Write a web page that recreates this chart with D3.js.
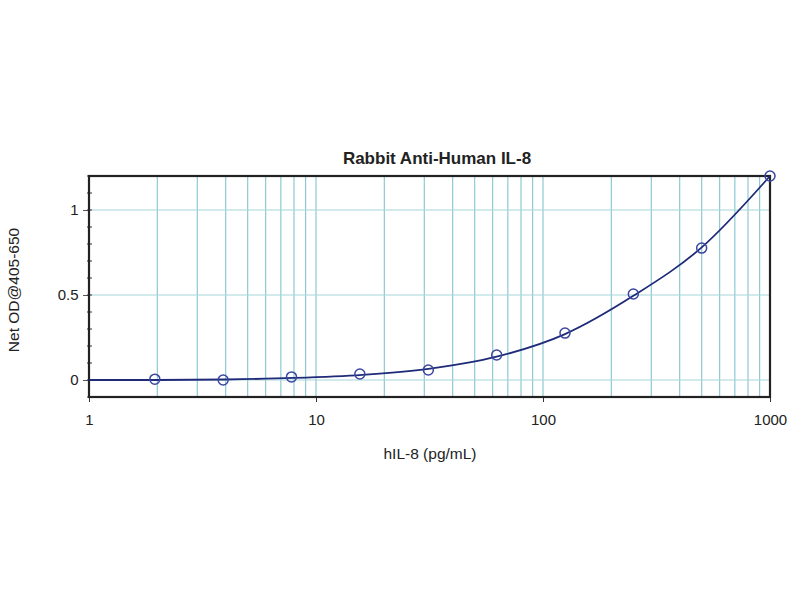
<!DOCTYPE html>
<html><head><meta charset="utf-8">
<script src="https://cdn.jsdelivr.net/npm/d3@7/dist/d3.min.js"></script>
<style>body{margin:0;background:#fff;} svg{display:block;font-family:"Liberation Sans",Arial,sans-serif;}</style>
</head><body><svg id="c" width="800" height="600"></svg>
<script>
const concentrations = [1.95, 3.9, 7.8, 15.6, 31.25, 62.5, 125, 250, 500, 1000];
const netOD = [0.005, 0.0, 0.018, 0.035, 0.059, 0.147, 0.276, 0.506, 0.776, 1.2];
const fitX = [1, 2, 4, 8, 16, 31.25, 62.5, 125, 250, 500, 1000];
const fitY = [0.0, 0.0, 0.003, 0.012, 0.03, 0.065, 0.137, 0.27, 0.495, 0.78, 1.2];
const xTicks = [1, 10, 100, 1000];
const yTicks = [0, 0.5, 1];
const title = "Rabbit Anti-Human IL-8";
const xLabel = "hIL-8 (pg/mL)";
const yLabel = "Net OD@405-650";

const svg = d3.select("#c");
const L = 89, R = 770, T = 176, B = 397;
const x = d3.scaleLog().domain([1, 1000]).range([L, R]);
const y = d3.scaleLinear().domain([-0.1, 1.2]).range([B, T]);

// minor log gridlines
const grid = [];
for (let d = 1; d < 1000; d *= 10) for (let k = 1; k <= 9; k++) { const v = d * k; if (v > 1 && v < 1000) grid.push(v); }
svg.append("g").selectAll("line").data(grid).join("line")
  .attr("x1", d => x(d)).attr("x2", d => x(d)).attr("y1", T).attr("y2", B)
  .attr("stroke", "#8fc9d2").attr("stroke-width", 1.2);
svg.append("g").selectAll("line").data(yTicks).join("line")
  .attr("x1", L).attr("x2", R).attr("y1", d => y(d)).attr("y2", d => y(d))
  .attr("stroke", "#a8d6dc").attr("stroke-width", 1.2);

// axes
const xAxis = d3.axisBottom(x).tickValues(xTicks).tickFormat(d3.format("d")).tickSize(5).tickSizeOuter(0);
const gx = svg.append("g").attr("transform", `translate(0,${B})`).call(xAxis);
gx.select(".domain").remove();
gx.selectAll("text").attr("font-size", 15).attr("fill", "#222").attr("dy", "1.33em");
gx.selectAll("line").attr("stroke", "#333");

const yAxis = d3.axisLeft(y).tickValues(yTicks).tickFormat(d => d === 0 ? "0" : String(d)).tickSize(6);
const gy = svg.append("g").attr("transform", `translate(${L},0)`).call(yAxis);
gy.select(".domain").remove();
gy.selectAll("text").attr("font-size", 15).attr("fill", "#222").attr("dx", "-0.1em");
gy.selectAll("line").attr("stroke", "#555");

// minor y ticks
const minorY = d3.range(-0.1, 1.2001, 0.1).map(v => +v.toFixed(2));
svg.append("g").selectAll("line").data(minorY).join("line")
  .attr("x1", L - 2).attr("x2", L + 3).attr("y1", d => y(d)).attr("y2", d => y(d))
  .attr("stroke", "#333");

// frame
svg.append("rect").attr("x", L).attr("y", T).attr("width", R - L).attr("height", B - T)
  .attr("fill", "none").attr("stroke", "#222").attr("stroke-width", 2.2);

// fit curve
const line = d3.line().x(d => x(d[0])).y(d => y(d[1])).curve(d3.curveMonotoneX);
svg.append("path").datum(fitX.map((v, i) => [v, fitY[i]]))
  .attr("d", line).attr("fill", "none").attr("stroke", "#1f2a78").attr("stroke-width", 1.8);

// points
svg.append("g").selectAll("circle").data(concentrations.map((v, i) => [v, netOD[i]])).join("circle")
  .attr("cx", d => x(d[0])).attr("cy", d => y(d[1])).attr("r", 5)
  .attr("fill", "none").attr("stroke", "#3a46a0").attr("stroke-width", 1.5);

// texts
svg.append("text").attr("x", 437).attr("y", 164).attr("text-anchor", "middle")
  .attr("font-size", 17).attr("font-weight", "bold").attr("fill", "#222").text(title);
svg.append("text").attr("x", 430).attr("y", 459).attr("text-anchor", "middle")
  .attr("font-size", 15.5).attr("fill", "#222").text(xLabel);
svg.append("text").attr("transform", "translate(19,290) rotate(-90)").attr("text-anchor", "middle")
  .attr("font-size", 15.5).attr("fill", "#222").text(yLabel);
</script></body></html>
